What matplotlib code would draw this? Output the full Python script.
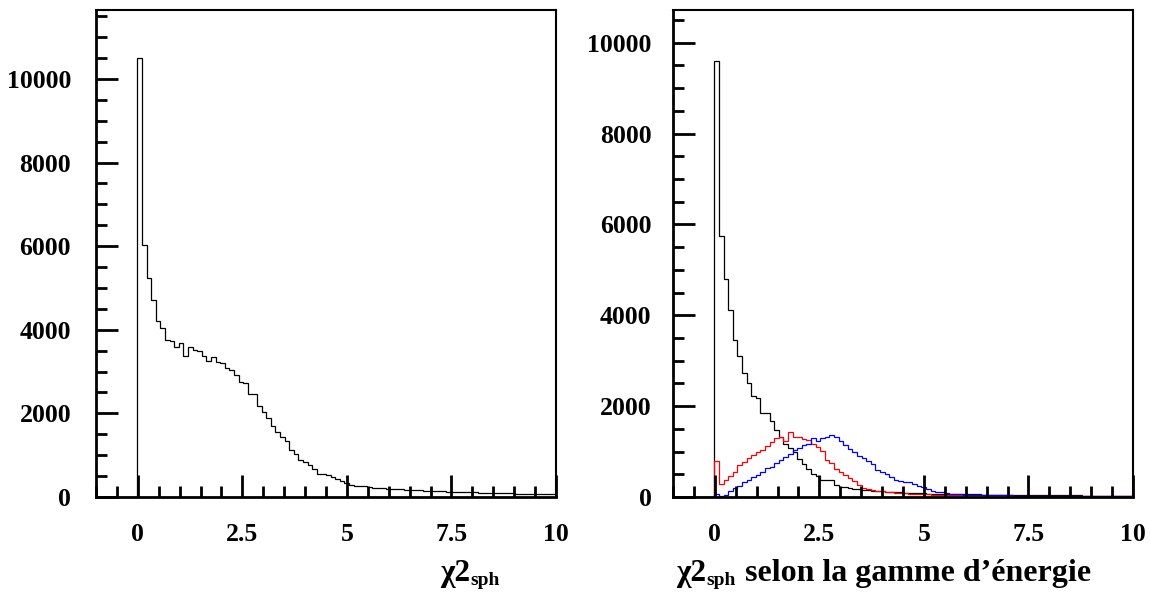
import numpy as np
import matplotlib
matplotlib.use("Agg")
import matplotlib.pyplot as plt
from matplotlib.ticker import MultipleLocator

# -----------------------------
# Data: 100 bins from -1 to 10 (bin width 0.11)
# -----------------------------
N_BINS = 100
X_MIN, X_MAX = -1.0, 10.0

empty_bins = [0, 0, 0, 0, 0, 0, 0, 0, 0]   # x in [-1, -0.01]

chi2_all = empty_bins + [
    10500, 6030, 5250, 4710, 4200, 4050, 3760, 3720, 3590, 3680,
    3370, 3590, 3510, 3490, 3370, 3250, 3360, 3240, 3210, 3090,
    3040, 2930, 2740, 2720, 2470, 2460, 2170, 2040, 1880, 1710,
    1550, 1430, 1330,
    1130, 1030, 890, 830, 770, 665, 560, 545, 520, 475,
    425, 385, 330, 290, 270, 262, 255, 232,
    225, 215, 212, 200, 196, 188, 182, 172, 168, 162,
    156, 152, 145, 141, 138, 132, 129, 125, 121, 118,
    115, 112, 108, 105, 101, 98, 96, 92, 90, 88,
    85, 83, 80, 78, 76, 74, 72, 70, 68, 66,
]

chi2_black = empty_bins + [
    9600, 5735, 4795, 4120, 3460, 3105, 2725, 2505, 2225, 2175,
    1850, 1845, 1675, 1475, 1325, 1160, 1085, 990, 845, 720,
    610, 500, 465, 375, 372, 368, 270, 225, 212, 200,
    185, 172, 160, 150,
    140, 131, 122, 115, 110, 104, 100, 96, 91, 88,
    84, 80, 77, 73, 70, 68, 66,
    64, 62, 61, 59, 58, 57, 56, 55, 54, 53,
    52, 51, 50, 49, 48, 47, 46, 45, 44, 43,
    42, 41, 40, 39, 38, 37, 36, 35, 34, 33,
    32, 31, 30, 30, 29, 28, 27, 26, 25, 25,
]

chi2_red = empty_bins + [
    790, 280, 385, 465, 540, 700, 760, 850, 935, 1000,
    1035, 1120, 1220, 1300, 1310, 1240, 1430, 1330, 1310, 1280,
    1250, 1170, 1090, 1020, 820, 755, 620, 560, 490, 420,
    345, 255, 200, 170,
    155, 140, 125, 112, 100, 92, 85, 78, 72, 68,
    64, 60, 56, 54, 52, 50, 48,
    47, 46, 45, 44, 42, 41, 40, 40, 38, 37,
    36, 35, 35, 34, 33, 32, 31, 30, 30, 29,
    28, 27, 27, 26, 25, 25, 24, 23, 23, 22,
    22, 21, 21, 20, 20, 19, 19, 18, 18, 17,
]

chi2_blue = empty_bins + [
    70, 20, 55, 130, 200, 245, 320, 385, 450, 495,
    560, 630, 670, 745, 820, 875, 950, 1030, 1075, 1150,
    1160, 1300, 1230, 1300, 1320, 1375, 1310, 1230, 1150, 1060,
    990, 910, 850, 790,
    720, 600, 550, 500, 450, 380, 360, 340, 320, 290,
    250, 210, 170, 140, 115, 100, 85,
    75, 68, 60, 55, 50, 46, 45, 44, 42, 40,
    38, 36, 35, 34, 32, 30, 30, 28, 27, 26,
    25, 24, 24, 23, 22, 22, 21, 20, 20, 19,
    19, 18, 18, 17, 17, 16, 16, 15, 15, 15,
]

x_ticks = [0, 2.5, 5, 7.5, 10]
x_tick_labels = ["0", "2.5", "5", "7.5", "10"]
y_ticks = [0, 2000, 4000, 6000, 8000, 10000]
y_tick_labels = ["0", "2000", "4000", "6000", "8000", "10000"]

edges = np.linspace(X_MIN, X_MAX, N_BINS + 1)

# -----------------------------
# Style
# -----------------------------
FONT = "Liberation Serif"
TICK_SIZE = 18.5
LABEL_SIZE = 22.5
SUB_SIZE = 14

fig = plt.figure(figsize=(11.5, 5.94), dpi=100)
ax_l = fig.add_axes([96 / 1150, 1 - 497 / 594, 460 / 1150, 487 / 594])
ax_r = fig.add_axes([673 / 1150, 1 - 497 / 594, 460 / 1150, 487 / 594])


def style_axes(ax, ymax, ypad):
    ax.set_xlim(X_MIN, X_MAX)
    ax.set_ylim(0, ymax)
    ax.set_xticks(x_ticks)
    ax.set_xticklabels(x_tick_labels)
    ax.set_yticks(y_ticks)
    ax.set_yticklabels(y_tick_labels)
    ax.xaxis.set_minor_locator(MultipleLocator(0.5))
    ax.yaxis.set_minor_locator(MultipleLocator(500))
    ax.tick_params(axis="both", which="major", direction="in", length=16, width=2,
                   top=False, right=False)
    ax.tick_params(axis="both", which="minor", direction="in", length=8, width=2,
                   top=False, right=False)
    ax.tick_params(axis="x", which="major", pad=18.5)
    ax.tick_params(axis="y", which="major", pad=ypad)
    for lab in ax.get_xticklabels() + ax.get_yticklabels():
        lab.set_fontfamily(FONT)
        lab.set_fontweight("bold")
        lab.set_fontsize(TICK_SIZE)
    for side in ["left", "bottom"]:
        ax.spines[side].set_linewidth(2)
    for side in ["top", "right"]:
        ax.spines[side].set_linewidth(1.5)


# left panel: all events
ax_l.stairs(chi2_all, edges, color="black", linewidth=0.9)
style_axes(ax_l, 11650, 18)

# right panel: split by energy range
ax_r.stairs(chi2_black, edges, color="black", linewidth=0.9)
ax_r.stairs(chi2_red, edges, color="red", linewidth=0.9)
ax_r.stairs(chi2_blue, edges, color="blue", linewidth=0.9)
style_axes(ax_r, 10720, 15.5)

# -----------------------------
# Axis titles (chi2 with subscript)
# -----------------------------
def chi2_label(x_fig, y_fig):
    t = fig.text(x_fig, y_fig, "χ2", fontfamily=FONT, fontweight="bold",
                 fontsize=LABEL_SIZE, va="baseline", ha="left")
    fig.add_artist(plt.matplotlib.text.Annotation(
        "sph", xy=(1, 0), xycoords=t, xytext=(0.5, 2),
        textcoords="offset points", fontfamily=FONT, fontweight="bold",
        fontsize=SUB_SIZE, va="baseline", ha="left", annotation_clip=False))


chi2_label(440 / 1150, 1 - 581 / 594)
chi2_label(676 / 1150, 1 - 581 / 594)
fig.text(745 / 1150, 1 - 581 / 594, "selon la gamme d’énergie", fontfamily=FONT,
         fontweight="bold", fontsize=LABEL_SIZE + 0.5, va="baseline", ha="left")

fig.savefig("out.png", dpi=100)
